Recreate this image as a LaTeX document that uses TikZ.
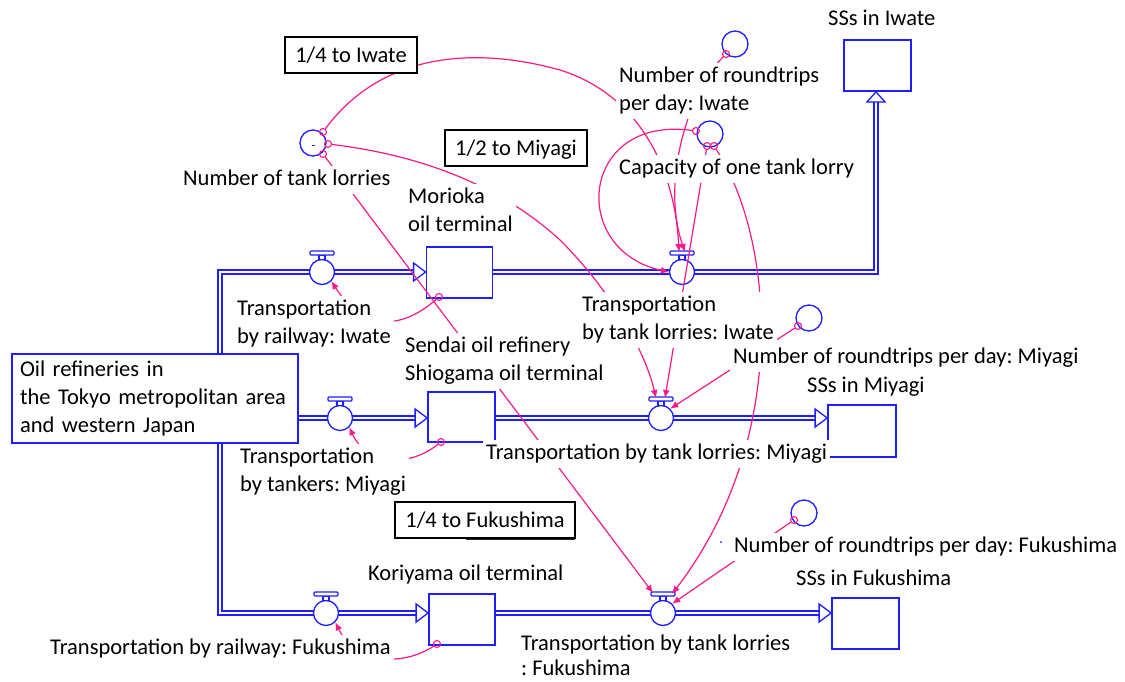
\documentclass[tikz,border=0pt]{standalone}
\usepackage{fontspec}
\setmainfont{Carlito}
\usetikzlibrary{arrows.meta}
\frenchspacing
\definecolor{vb}{RGB}{30,30,255}
\definecolor{vp}{RGB}{250,25,135}
\tikzset{
 pipe/.style={draw=vb, line width=1.5pt, double=white, double distance=2.4pt},
 stockbox/.style={draw=vb, line width=1.8pt, fill=white, rectangle, inner sep=0pt},
 valvec/.style={draw=vb, line width=1.3pt, fill=white, circle, minimum size=25pt, inner sep=0pt},
 auxc/.style={draw=vb, line width=1.3pt, circle, minimum size=26pt, inner sep=0pt},
 tailc/.style={draw=vp, line width=1.1pt, circle, minimum size=7pt, inner sep=0pt},
 conn/.style={draw=vp, line width=1.2pt, -{Latex[length=8pt,width=7pt]}},
 lbl/.style={font=\fontsize{22.5}{28}\selectfont, align=left, inner xsep=3pt, inner ysep=0pt, fill=white, anchor=north west},
 cbox/.style={draw=black, line width=1.4pt, fill=white, font=\fontsize{22.5}{28}\selectfont, inner sep=0pt, text height=14.5pt, text depth=0pt},
 inarrow/.style={draw=vb, line width=1.3pt, fill=white},
}
\newcommand{\valvesym}[3]{%
  \node[valvec] (#1) at (#2,#3) {};
  \draw[vb, line width=1.1pt, fill=white] (#2-3,#3-17) rectangle (#2+3,#3-12.5);
  \draw[vb, line width=1.2pt, fill=white, rounded corners=1pt] (#2-12,#3-21) rectangle (#2+12,#3-17);
}
\newcommand{\topstrut}{\rule{0pt}{19.6pt}}
\begin{document}
\begin{tikzpicture}[x=1pt,y=-1pt]
\fill[white] (0,0) rectangle (1125,681);
\useasboundingbox (0,0) rectangle (1125,681);

% stocks
\node[stockbox, minimum width=66pt, minimum height=51pt] (mor) at (459.5,272.5) {};
\node[stockbox, minimum width=67pt, minimum height=50pt] (shi) at (461.5,417) {};
\node[stockbox, minimum width=66pt, minimum height=51pt] (kor) at (462,619.5) {};
\node[stockbox, minimum width=67pt, minimum height=51pt] (ssI) at (877.5,65.5) {};
\node[stockbox, minimum width=68pt, minimum height=52pt] (ssM) at (862,431) {};
\node[stockbox, minimum width=67pt, minimum height=51pt] (ssF) at (865.5,623.5) {};

% pipe coordinates
\coordinate (morin) at (415,272);
\coordinate (corTop) at (220,272);
\coordinate (corBot) at (220,613);
\coordinate (korin) at (417,613);
\coordinate (srcR) at (298,418);
\coordinate (shiin) at (416,418);
\coordinate (ssMin) at (816,418);
\coordinate (ssFin) at (820,613);
\coordinate (bend) at (876,272);
\coordinate (ssIin) at (876,101);

\draw[pipe] (morin) -- (corTop) -- (corBot) -- (korin);
\draw[pipe] (srcR) -- (shiin);
\draw[pipe] (mor.east |- bend) -- (bend) -- (ssIin);
\draw[pipe] (shi.east |- shiin) -- (ssMin);
\draw[pipe] (kor.east |- korin) -- (ssFin);

\draw[inarrow] (mor.west |- morin) -- ++(-12,-9) -- ++(0,18) -- cycle;
\draw[inarrow] (shi.west |- shiin) -- ++(-12,-9) -- ++(0,18) -- cycle;
\draw[inarrow] (kor.west |- korin) -- ++(-12,-9) -- ++(0,18) -- cycle;
\draw[inarrow] (ssM.west |- ssMin) -- ++(-12,-9) -- ++(0,18) -- cycle;
\draw[inarrow] (ssF.west |- ssFin) -- ++(-12,-9) -- ++(0,18) -- cycle;
\draw[inarrow] (ssI.south -| bend) -- ++(-9,10) -- ++(18,0) -- cycle;

% valves
\valvesym{ir}{322}{272}
\valvesym{mt}{340}{418}
\valvesym{fr}{326}{613}
\valvesym{iv}{682}{272}
\valvesym{mv}{661}{418}
\valvesym{fv}{663}{613}

% auxiliaries
\node[auxc] (ntl) at (313,143) {};
\node[auxc] (rtI) at (735,44) {};
\node[auxc] (cap) at (710,134) {};
\node[auxc] (rtM) at (809,318) {};
\node[auxc] (rtF) at (804,513) {};
\draw[vb, line width=1pt] (311.5,145) -- (314.5,145);

% tails
\node[tailc] (ta1) at (323,132) {};
\node[tailc] (ta2) at (328,144) {};
\node[tailc] (ta3) at (323,154) {};
\node[tailc] (trI) at (726,54) {};
\node[tailc] (tc1) at (696,131) {};
\node[tailc] (tc2) at (707,146) {};
\node[tailc] (tc3) at (714,146) {};
\node[tailc] (trM) at (798,326) {};
\node[tailc] (trF) at (794,520) {};
\node[tailc] (tmor) at (439,297) {};
\node[tailc] (tshi) at (441,442) {};
\node[tailc] (tkor) at (437,644) {};

% connector end points
\coordinate (ivh1) at (679,252);
\coordinate (ivh2) at (685,252);
\coordinate (mvh1) at (656,398);
\coordinate (mvh2) at (665,398);
\coordinate (fvh1) at (653,593);
\coordinate (fvh2) at (672,594);

% connectors
\draw[conn] (ta1) .. controls (380,55) and (470,45) .. (560,70) .. controls (640,95) and (675,170) .. (ivh1);
\draw[conn] (trI) .. controls (690,90) and (660,180) .. (ivh2);
\draw[conn] (tc1) .. controls (580,115) and (568,250) .. (iv.west);
\draw[conn] (ta2) .. controls (420,155) and (500,185) .. (560,240) .. controls (610,290) and (645,350) .. (mvh1);
\draw[conn] (tc2) -- (mvh2);
\draw[conn] (tc3) .. controls (775,240) and (790,440) .. (fvh2);
\draw[conn] (trM) -- (mv.north east);
\draw[conn] (ta3) -- (fvh1);
\draw[conn] (trF) -- (fv.north east);
\draw[conn] (tmor) .. controls (395,335) and (360,325) .. (ir.south east);
\draw[conn] (tshi) .. controls (405,470) and (365,462) .. (mt.south east);
\draw[conn] (tkor) .. controls (400,668) and (355,662) .. (fr.south east);

% labels
\node[lbl] (lSSI) at (825,5.4) {\strut SSs in Iwate};
\node[lbl] (lrtI) at (616,62.4) {\strut Number of roundtrips\\\strut per day: Iwate};
\node[lbl] (lcap) at (616,154.4) {\strut Capacity of one tank lorry};
\node[lbl] (lntl) at (180,165.4) {\strut Number of tank lorries};
\node[lbl] (lmor) at (405,183.4) {\strut Morioka\\\strut oil terminal};
\node[lbl] (ltrI) at (234,295.4) {\strut Transportation\\\strut by railway: Iwate};
\node[lbl] (lshi) at (402,332.4) {\strut Sendai oil refinery\\\strut Shiogama oil terminal};
\node[lbl] (ltlI) at (579,291.4) {\strut Transportation\\\strut by tank lorries: Iwate};
\node[lbl] (lrtM) at (730,343.4) {\strut Number of roundtrips per day: Miyagi};
\node[lbl] (lSSM) at (804,372.4) {\strut SSs in Miyagi};
\node[lbl] (ltlM) at (483,439.4) {\strut Transportation by tank lorries: Miyagi};
\node[lbl] (lttM) at (237,443.4) {\strut Transportation\\\strut by tankers: Miyagi};
\node[lbl] (lrtF) at (731,532.4) {\strut Number of roundtrips per day: Fukushima};
\node[lbl] (lkor) at (365,560.4) {\strut Koriyama oil terminal};
\node[lbl] (lSSF) at (793,565.4) {\strut SSs in Fukushima};
\node[lbl] (ltrF) at (47,634.4) {\strut Transportation by railway: Fukushima};
\node[lbl] (ltlF) at (518,630.4) {\strut Transportation by tank lorries\\[-4pt]\topstrut : Fukushima};
\fill[vb] (721,542) circle (1pt);

% source box
\node[draw=vb, line width=2.5pt, fill=white, font=\fontsize{22.5}{28}\selectfont, align=left, text width=270pt, inner xsep=8pt, inner ysep=0pt, minimum height=89pt] (src) at (155,398.5) {\strut Oil refineries in\\\strut the Tokyo metropolitan area\\\strut and western Japan};

% comment boxes
\node[cbox, minimum width=132pt, minimum height=36pt] (b1) at (351,55) {1/4 to Iwate};
\node[cbox, minimum width=142pt, minimum height=36pt] (b2) at (516,148) {1/2 to Miyagi};
\node[cbox, minimum width=180pt, minimum height=36pt] (b3) at (485,520) {1/4 to Fukushima};
\draw[black!85, line width=1.5pt] (466,539.5) -- (575,539.5);
\end{tikzpicture}
\end{document}
